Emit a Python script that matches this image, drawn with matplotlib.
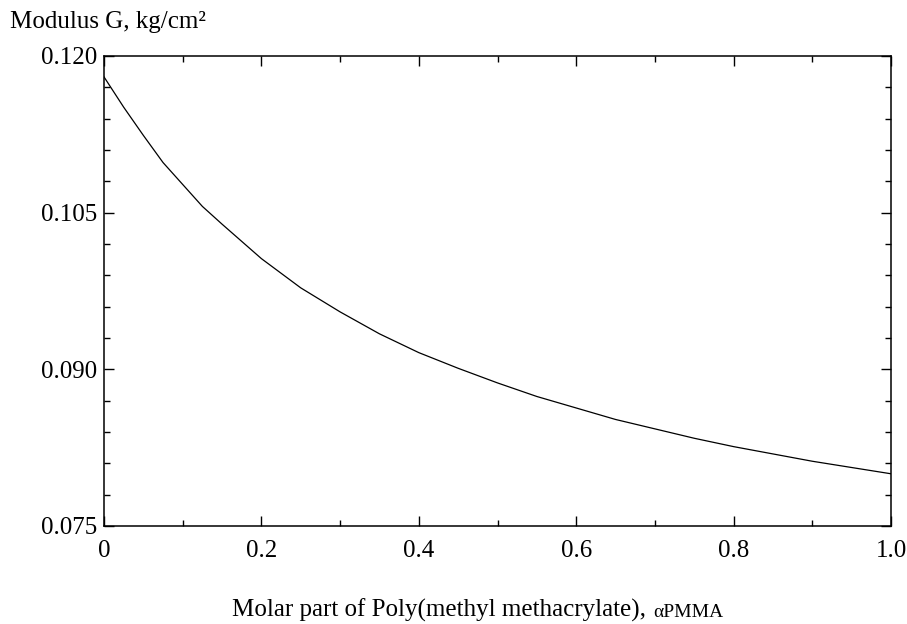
import matplotlib
matplotlib.use("Agg")
import matplotlib.pyplot as plt
from matplotlib.ticker import MultipleLocator, FixedLocator

plt.rcParams.update({
    "font.family": ["Liberation Serif", "DejaVu Serif"],
    "font.size": 18,
})

# molar part of PMMA and shear modulus G (kg/cm2)
alpha = [0.0, 0.025, 0.05, 0.075, 0.1, 0.125, 0.15, 0.2, 0.25, 0.3, 0.35,
         0.4, 0.45, 0.5, 0.55, 0.6, 0.65, 0.7, 0.75, 0.8, 0.85, 0.9, 0.95,
         1.0]
modulus = [0.1180, 0.1151, 0.1124, 0.1098, 0.1077, 0.1056, 0.1039, 0.1006,
           0.0978, 0.0955, 0.0934, 0.0916, 0.0901, 0.0887, 0.0874, 0.0863,
           0.0852, 0.0843, 0.0834, 0.0826, 0.0819, 0.0812, 0.0806, 0.0800]

x_ticks = [0, 0.2, 0.4, 0.6, 0.8, 1.0]
x_labels = ["0", "0.2", "0.4", "0.6", "0.8", "1.0"]
y_ticks = [0.075, 0.090, 0.105, 0.120]
y_labels = ["0.075", "0.090", "0.105", "0.120"]

fig = plt.figure(figsize=(9.07, 6.24), dpi=100)
ax = fig.add_axes([104 / 907, 1 - 526 / 624, 787 / 907, 470 / 624])

ax.plot(alpha, modulus, color="black", linewidth=0.9)

ax.set_xlim(0, 1.0)
ax.set_ylim(0.075, 0.120)
ax.xaxis.set_major_locator(FixedLocator(x_ticks))
ax.set_xticklabels(x_labels)
ax.xaxis.set_minor_locator(MultipleLocator(0.1))
ax.yaxis.set_major_locator(FixedLocator(y_ticks))
ax.set_yticklabels(y_labels)
ax.yaxis.set_minor_locator(MultipleLocator(0.003))

ax.tick_params(which="both", direction="in", top=True, right=True,
               width=1.0, colors="black")
ax.tick_params(which="major", length=7)
ax.tick_params(which="minor", length=4.5)
ax.tick_params(axis="x", which="both", pad=10)
ax.tick_params(axis="y", which="both", pad=5)
for sp in ax.spines.values():
    sp.set_linewidth(1.1)

fig.text(10 / 907, 1 - 22 / 624, "Modulus G, kg/cm²", ha="left", va="center")

# x label: main part plus the smaller alpha_PMMA symbol, right edge at ~723 px
base_y = 1 - 617 / 624
sym = fig.text(723 / 907, base_y, "αPMMA", ha="right", va="baseline",
               fontsize=14)
fig.canvas.draw()
bb = sym.get_window_extent(renderer=fig.canvas.get_renderer())
fig.text(bb.x0 / fig.bbox.width, base_y,
         "Molar part of Poly(methyl methacrylate), ",
         ha="right", va="baseline")

fig.savefig("out.png", dpi=100)
